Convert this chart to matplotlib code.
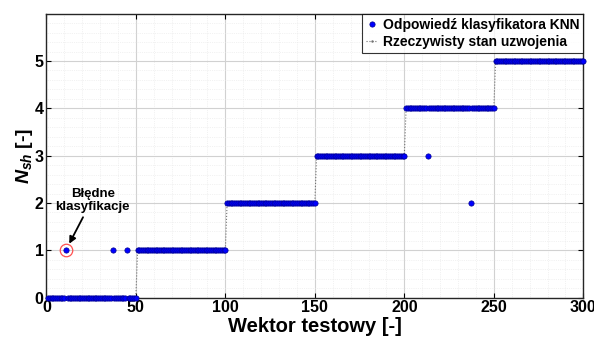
import numpy as np
import matplotlib
matplotlib.use('Agg')
import matplotlib.pyplot as plt
from matplotlib.ticker import MultipleLocator

# klasy stanu uzwojenia i liczba wektorow w kazdej klasie
klasy = [0, 1, 2, 3, 4, 5]
liczba_wektorow = [50, 50, 50, 50, 50, 50]

# bledne odpowiedzi klasyfikatora: numer wektora -> odpowiedz
bledy_nr = [11, 37, 45, 213, 237]
bledy_odp = [1, 1, 1, 3, 2]

# wektor z zaznaczonym kolkiem
zaznaczony = 11

plt.rcParams['font.family'] = ['Liberation Sans', 'DejaVu Sans']
plt.rcParams['font.weight'] = 'bold'
plt.rcParams['mathtext.fontset'] = 'custom'
plt.rcParams['mathtext.it'] = 'Liberation Sans:bold:italic'
plt.rcParams['mathtext.rm'] = 'Liberation Sans:bold'

stan = np.repeat(klasy, liczba_wektorow)
nr = np.arange(1, len(stan) + 1)
odp = stan.copy()
for n, o in zip(bledy_nr, bledy_odp):
    odp[n - 1] = o

fig = plt.figure(figsize=(5.94, 3.41), dpi=100)
ax = fig.add_axes([0.078, 0.127, 0.904, 0.833])

ax.plot(nr, odp, linestyle='none', marker='o', ms=3.8, color='blue',
        mec='#000090', mew=0.5, clip_on=False, zorder=3,
        label='Odpowiedź klasyfikatora KNN')
ax.plot(nr, stan, linestyle=':', lw=0.8, color='0.45', marker='.', ms=1.5,
        zorder=2, label='Rzeczywisty stan uzwojenia')

# zaznaczenie blednej klasyfikacji
ax.plot(zaznaczony, odp[zaznaczony - 1], marker='o', ms=9, mfc='none',
        mec='#ff5050', mew=0.9, linestyle='none', zorder=4)
ax.text(26, 2.05, 'Błędne\nklasyfikacje', ha='center', va='center',
        fontsize=9.5, fontweight='bold', linespacing=1.05)
ax.annotate('', xy=(12.8, 1.14), xytext=(20.5, 1.7),
            arrowprops=dict(arrowstyle='-|>', color='black', lw=1.3,
                            mutation_scale=10, shrinkA=0, shrinkB=0))

ax.set_xlim(0, 300)
ax.set_ylim(0, 6)
ax.set_xticks(range(0, 301, 50))
ax.set_yticks(range(0, 6))
ax.xaxis.set_minor_locator(MultipleLocator(10))
ax.yaxis.set_minor_locator(MultipleLocator(0.2))
ax.grid(which='major', color='0.82', lw=0.8)
ax.grid(which='minor', color='0.9', lw=0.5, linestyle=':')
ax.set_axisbelow(True)
ax.tick_params(which='both', direction='in', top=True, right=True,
               labelsize=11.5, pad=2)
ax.tick_params(which='minor', length=0)
for lab in ax.get_xticklabels() + ax.get_yticklabels():
    lab.set_fontweight('bold')
for s in ax.spines.values():
    s.set_color('0.15')
    s.set_linewidth(1.0)

ax.set_xlabel('Wektor testowy [-]', fontsize=14.5, fontweight='bold', labelpad=1)
ax.set_ylabel(r'$N_{sh}$ [-]', fontsize=14, fontweight='bold', labelpad=0)

leg = ax.legend(loc='upper right', borderaxespad=0, fontsize=10,
                frameon=True, fancybox=False, handlelength=0.8,
                handletextpad=0.4, borderpad=0.3, labelspacing=0.2)
leg.get_frame().set_edgecolor('black')
leg.get_frame().set_linewidth(0.8)
for t in leg.get_texts():
    t.set_fontweight('bold')

fig.savefig('out.png', dpi=100)
